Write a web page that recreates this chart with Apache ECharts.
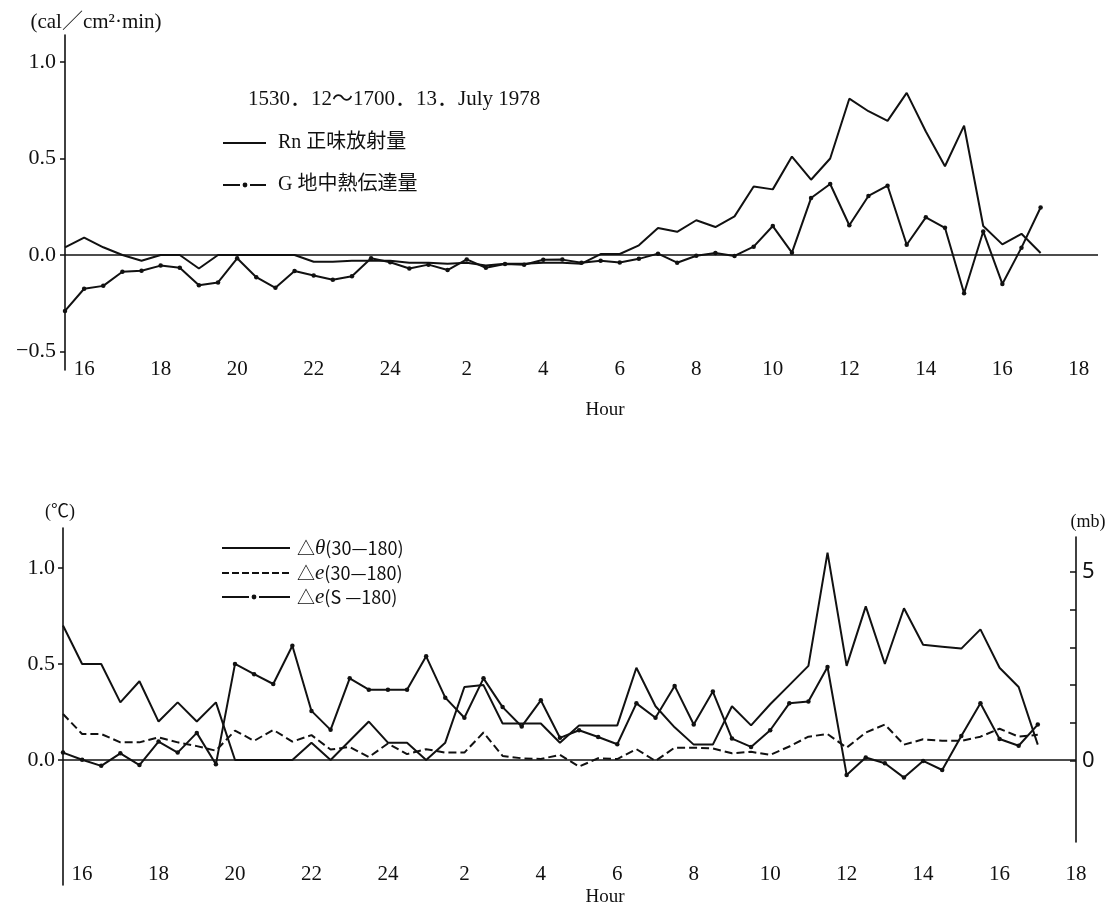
<!DOCTYPE html>
<html><head><meta charset="utf-8">
<script src="https://cdn.jsdelivr.net/npm/echarts@6/dist/echarts.min.js"></script>
<style>html,body{margin:0;padding:0;background:#fff}#c{width:1112px;height:911px}</style>
</head><body><div id="c"></div>
<script>
// time of each observation, hours since 0:00 on the 12th (15:30 on 12th .. 17:00 on 13th)
const hours = [15.5,16,16.5,17,17.5,18,18.5,19,19.5,20,20.5,21,21.5,22,22.5,23,23.5,24,24.5,25,25.5,26,26.5,27,27.5,28,28.5,29,29.5,30,30.5,31,31.5,32,32.5,33,33.5,34,34.5,35,35.5,36,36.5,37,37.5,38,38.5,39,39.5,40,40.5,41];
const hourTicks = [16,18,20,22,24,26,28,30,32,34,36,38,40,42];
const hourTickLabels = ['16','18','20','22','24','2','4','6','8','10','12','14','16','18'];

// upper panel (cal/cm2·min)
const rn = [0.04,0.09,0.04,0.00,-0.03,0.00,0.00,-0.07,0.00,0.00,
            0.00,0.00,0.00,-0.035,-0.035,-0.03,-0.03,-0.03,-0.04,-0.04,
            -0.045,-0.04,-0.055,-0.045,-0.045,-0.04,-0.04,-0.045,0.005,0.005,
            0.05,0.14,0.12,0.18,0.145,0.20,0.355,0.34,0.51,0.39,
            0.50,0.81,0.745,0.695,0.84,0.64,0.46,0.67,0.15,0.055,
            0.11,0.01];
const g = [-0.29,-0.175,-0.16,-0.087,-0.082,-0.055,-0.066,-0.157,-0.142,-0.017,
           -0.115,-0.17,-0.083,-0.106,-0.128,-0.11,-0.017,-0.038,-0.07,-0.05,
           -0.078,-0.023,-0.066,-0.047,-0.051,-0.025,-0.024,-0.04,-0.03,-0.039,
           -0.02,0.007,-0.04,-0.004,0.01,-0.005,0.043,0.15,0.012,0.295,
           0.368,0.154,0.306,0.359,0.053,0.195,0.141,-0.198,0.122,-0.15,
           0.038,0.246];
const topTicks = [-0.5,0,0.5,1.0];

// lower panel: dTheta (deg C), dE30 and dES (mb)
const dTheta = [0.70,0.50,0.50,0.30,0.41,0.20,0.30,0.20,0.30,0.00,
                0.00,0.00,0.00,0.09,0.00,0.10,0.20,0.09,0.09,0.00,
                0.09,0.38,0.39,0.19,0.19,0.19,0.09,0.18,0.18,0.18,
                0.48,0.28,0.17,0.08,0.08,0.28,0.18,0.29,0.39,0.49,
                1.08,0.49,0.80,0.50,0.79,0.60,0.59,0.58,0.68,0.48,
                0.38,0.08];
const dE30 = [1.24,0.71,0.71,0.49,0.49,0.62,0.49,0.39,0.27,0.80,
              0.53,0.82,0.51,0.68,0.30,0.37,0.10,0.46,0.18,0.31,
              0.22,0.22,0.75,0.13,0.07,0.05,0.16,-0.15,0.07,0.05,
              0.31,0.00,0.35,0.35,0.33,0.20,0.24,0.16,0.38,0.64,
              0.71,0.35,0.75,0.96,0.43,0.57,0.53,0.53,0.64,0.85,
              0.64,0.69];
const dES = [0.22,0.03,-0.13,0.20,-0.11,0.51,0.22,0.74,-0.09,2.56,
             2.29,2.03,3.04,1.32,0.82,2.18,1.88,1.88,1.88,2.76,
             1.67,1.14,2.18,1.42,0.91,1.60,0.61,0.81,0.63,0.44,
             1.52,1.14,1.98,0.96,1.83,0.59,0.37,0.81,1.52,1.57,
             2.48,-0.37,0.09,-0.06,-0.44,0.00,-0.24,0.66,1.52,0.58,
             0.40,0.96];
const lowLeftTicks = [0,0.5,1.0];
const mbTicks = [0,1,2,3,4,5];
const mbLabels = [0,5];

const names = {
  rn: 'Rn 正味放射量', g: 'G 地中熱伝達量',
  th: '△θ(30—180)', e30: '△e(30—180)', es: '△e(S —180)'
};

const INK = '#111';
const SERIF = '"Liberation Serif","Noto Sans CJK JP",serif';
const SANS = '"Noto Sans CJK JP","Noto Sans",sans-serif';

const pair = arr => hours.map((h, i) => [h, arr[i]]);
const zeroLine = {silent: true, symbol: 'none', label: {show: false},
  lineStyle: {color: INK, width: 1.6, type: 'solid'}, data: [{yAxis: 0}], animation: false};
const fmtY = v => (v < 0 ? '−' + Math.abs(v).toFixed(1) : v.toFixed(1));
const xLabel = v => hourTickLabels[hourTicks.indexOf(v)];
const numFont = {fontFamily: SERIF, fontSize: 21, color: INK};

// legend keys drawn as graphic elements
function keyLine(x1, x2, y, dash) {
  return {type: 'line', silent: true, shape: {x1: x1, y1: y, x2: x2, y2: y},
          style: {stroke: INK, lineWidth: 2, lineDash: dash || null}};
}
function keyDot(cx, cy) {
  return {type: 'circle', silent: true, shape: {cx: cx, cy: cy, r: 2.4}, style: {fill: INK}};
}
function label(x, y, text, font, align, rich) {
  const st = {text: text, font: font, fill: INK, align: align || 'left', verticalAlign: 'middle'};
  if (rich) st.rich = rich;
  return {type: 'text', x: x, y: y, silent: true, style: st};
}
const deltaRich = {
  a: {fontFamily: SANS, fontSize: 18, fill: INK},
  i: {fontFamily: '"Liberation Serif",serif', fontStyle: 'italic', fontSize: 21, fill: INK}
};
function deltaText(n) {
  const m = n.match(/^△(θ|e)(.*)$/);
  return '{a|△}{i|' + m[1] + '}{a|' + m[2] + '}';
}

const chart = echarts.init(document.getElementById('c'), null, {renderer: 'canvas'});
chart.setOption({
  animation: false,
  backgroundColor: '#fff',
  grid: [
    {left: 65, right: 14, top: 35, bottom: 541, outerBoundsMode: 'none'},
    {left: 63, right: 36, top: 528, bottom: 26, outerBoundsMode: 'none'},
    {left: 63, right: 36, top: 537, bottom: 69, outerBoundsMode: 'none'}
  ],
  xAxis: [
    {gridIndex: 0, type: 'value', min: 15.5, max: 42.5,
     axisLine: {show: false}, axisTick: {show: false}, splitLine: {show: false},
     axisLabel: Object.assign({customValues: hourTicks, formatter: xLabel, margin: -11}, numFont)},
    {gridIndex: 1, type: 'value', min: 15.5, max: 42,
     axisLine: {show: false}, axisTick: {show: false}, splitLine: {show: false},
     axisLabel: Object.assign({customValues: hourTicks, formatter: xLabel, margin: -21}, numFont)},
    {gridIndex: 2, type: 'value', min: 15.5, max: 42, show: false}
  ],
  yAxis: [
    {gridIndex: 0, type: 'value', min: -0.596, max: 1.14, position: 'left',
     axisLine: {show: true, lineStyle: {color: INK, width: 1.6}},
     axisTick: {show: true, customValues: topTicks, length: 5, lineStyle: {color: INK, width: 1.5}},
     splitLine: {show: false},
     axisLabel: Object.assign({customValues: topTicks, formatter: fmtY, margin: 9}, numFont, {fontSize: 22})},
    {gridIndex: 1, type: 'value', min: -0.651, max: 1.208, position: 'left',
     axisLine: {show: true, lineStyle: {color: INK, width: 1.6}},
     axisTick: {show: true, customValues: lowLeftTicks, length: 5, lineStyle: {color: INK, width: 1.5}},
     splitLine: {show: false},
     axisLabel: Object.assign({customValues: lowLeftTicks, formatter: fmtY, margin: 8}, numFont, {fontSize: 22})},
    {gridIndex: 2, type: 'value', min: -2.14, max: 5.91, position: 'right',
     axisLine: {show: true, lineStyle: {color: INK, width: 1.6}},
     axisTick: {show: true, inside: true, customValues: mbTicks, length: 6, lineStyle: {color: INK, width: 1.5}},
     splitLine: {show: false},
     axisLabel: {customValues: mbLabels, formatter: v => String(v), margin: 6,
                 fontFamily: '"Noto Sans","DejaVu Sans",sans-serif', fontSize: 22, color: INK}}
  ],
  series: [
    {name: names.rn, type: 'line', xAxisIndex: 0, yAxisIndex: 0, data: pair(rn),
     symbol: 'none', color: INK, lineStyle: {color: INK, width: 2}, markLine: zeroLine},
    {name: names.g, type: 'line', xAxisIndex: 0, yAxisIndex: 0, data: pair(g),
     symbol: 'circle', symbolSize: 4.5, color: INK, itemStyle: {color: INK},
     lineStyle: {color: INK, width: 2}},
    {name: names.th, type: 'line', xAxisIndex: 1, yAxisIndex: 1, data: pair(dTheta),
     symbol: 'none', color: INK, lineStyle: {color: INK, width: 2}, markLine: zeroLine},
    {name: names.e30, type: 'line', xAxisIndex: 2, yAxisIndex: 2, data: pair(dE30),
     symbol: 'none', color: INK, lineStyle: {color: INK, width: 2, type: [8, 4]}},
    {name: names.es, type: 'line', xAxisIndex: 2, yAxisIndex: 2, data: pair(dES),
     symbol: 'circle', symbolSize: 4.5, color: INK, itemStyle: {color: INK},
     lineStyle: {color: INK, width: 2}}
  ],
  graphic: [
    label(96, 22, '(cal／cm²·min)', '21px ' + SERIF, 'center'),
    label(248, 99, '1530．12～1700．13．July 1978', '21px ' + SERIF),
    keyLine(223, 266, 143),
    label(278, 143, names.rn, '20px ' + SERIF),
    keyLine(223, 240, 185), keyDot(245, 185), keyLine(250, 266, 185),
    label(278, 185, names.g, '20px ' + SERIF),
    label(605, 410, 'Hour', '19px ' + SERIF, 'center'),

    label(60, 512, '(℃)', '18px ' + SERIF, 'center'),
    label(1088, 522, '(mb)', '18px ' + SERIF, 'center'),
    keyLine(222, 290, 548),
    label(297, 548, deltaText(names.th), '18px ' + SANS, 'left', deltaRich),
    keyLine(222, 290, 573, [7, 3]),
    label(297, 573, deltaText(names.e30), '18px ' + SANS, 'left', deltaRich),
    keyLine(222, 249, 597), keyDot(254, 597), keyLine(259, 290, 597),
    label(297, 597, deltaText(names.es), '18px ' + SANS, 'left', deltaRich),
    label(605, 897, 'Hour', '19px ' + SERIF, 'center')
  ]
});
</script>
</body></html>
